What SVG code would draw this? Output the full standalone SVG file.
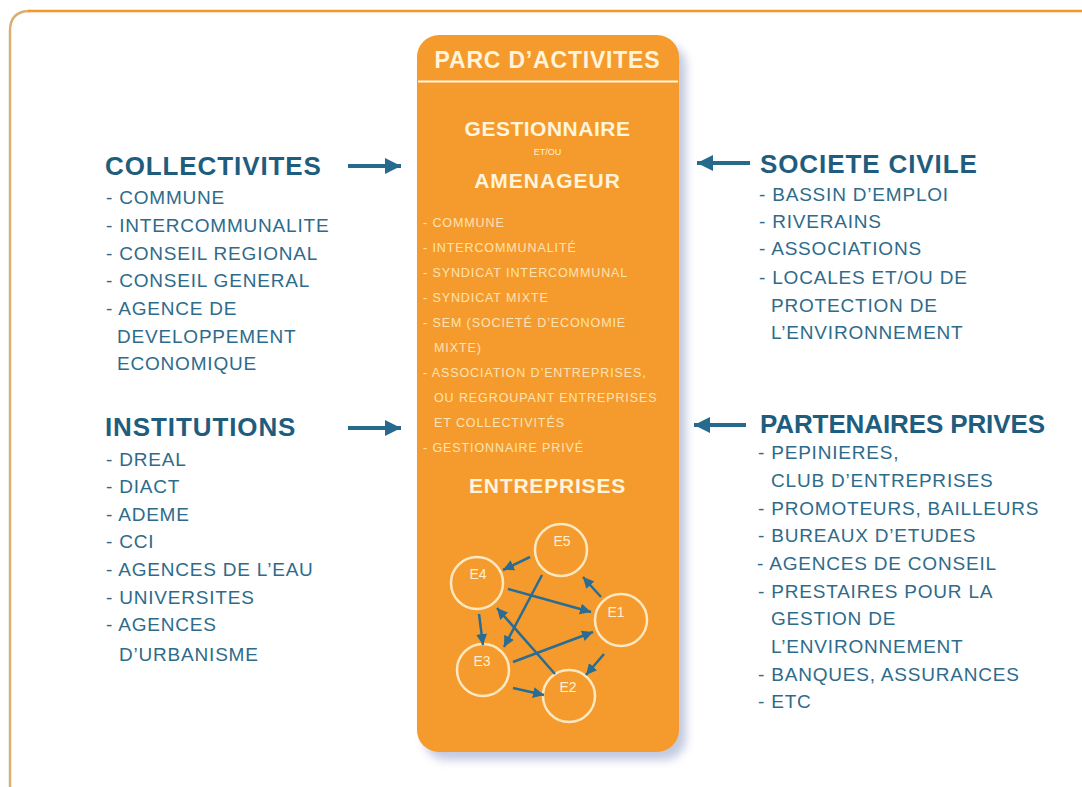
<svg xmlns="http://www.w3.org/2000/svg" width="1082" height="787" viewBox="0 0 1082 787">
<style>
  .hd{font-family:"Liberation Sans",Arial,sans-serif;font-weight:bold;font-size:26px;fill:#1f5d7e;letter-spacing:0.9px}
  .it{font-family:"Liberation Sans",Arial,sans-serif;font-size:19px;fill:#2e6b8b;letter-spacing:0.8px}
  .ch{font-family:"Liberation Sans",Arial,sans-serif;font-weight:bold;font-size:21px;fill:#fff4dc;text-anchor:middle}
  .ci{font-family:"Liberation Sans",Arial,sans-serif;font-size:12.5px;fill:#fde3b4;letter-spacing:0.9px}
  .el{font-family:"Liberation Sans",Arial,sans-serif;font-size:14px;fill:#fff0d0;text-anchor:middle}
  .circ{fill:none;stroke:#fde8c2;stroke-width:2.5}
  .big{stroke:#266a8e;stroke-width:4;fill:none}
  .sm{stroke:#2a6c92;stroke-width:2.5;fill:none}
</style>
<defs>
  <marker id="mb" markerUnits="userSpaceOnUse" markerWidth="18" markerHeight="18" refX="16" refY="8" orient="auto">
    <path d="M0,0 L16,8 L0,16 z" fill="#266a8e"/>
  </marker>
  <marker id="ms" markerUnits="userSpaceOnUse" markerWidth="12" markerHeight="12" refX="11" refY="5.5" orient="auto">
    <path d="M0,0 L11,5.5 L0,11 z" fill="#2a6c92"/>
  </marker>
  <filter id="sh" x="-10%" y="-10%" width="120%" height="120%">
    <feGaussianBlur stdDeviation="5"/>
  </filter>
</defs>
<rect width="1082" height="787" fill="#ffffff"/>
<g id="frame">
  <path d="M10,787 V31 Q10,11 30,11" fill="none" stroke="#dcae74" stroke-width="2.5"/>
  <path d="M28,11 H1082" fill="none" stroke="#f7952a" stroke-width="2.5"/>
</g>
<g id="parc">
  <rect x="424" y="44" width="262" height="716" rx="22" fill="#a9b2d2" opacity="0.7" filter="url(#sh)"/>
  <rect x="417" y="35" width="262" height="717" rx="22" fill="#f59b2d"/>
  <text class="ch" x="547.5" y="68" style="font-size:23px;letter-spacing:0.8px">PARC D’ACTIVITES</text>
  <line x1="418" y1="81.5" x2="678" y2="81.5" stroke="#fff4dc" stroke-width="2"/>
  <text class="ch" x="547.5" y="136" style="letter-spacing:0.5px">GESTIONNAIRE</text>
  <text class="el" x="547.5" y="155" style="font-size:9px">ET/OU</text>
  <text class="ch" x="547.5" y="188" style="letter-spacing:1px">AMENAGEUR</text>
  <text class="ci" x="423" y="227">- COMMUNE</text>
  <text class="ci" x="423" y="252">- INTERCOMMUNALITÉ</text>
  <text class="ci" x="423" y="277">- SYNDICAT INTERCOMMUNAL</text>
  <text class="ci" x="423" y="302">- SYNDICAT MIXTE</text>
  <text class="ci" x="423" y="327">- SEM (SOCIETÉ D’ECONOMIE</text>
  <text class="ci" x="434" y="352">MIXTE)</text>
  <text class="ci" x="423" y="377">- ASSOCIATION D’ENTREPRISES,</text>
  <text class="ci" x="434" y="402">OU REGROUPANT ENTREPRISES</text>
  <text class="ci" x="434" y="427">ET COLLECTIVITÉS</text>
  <text class="ci" x="423" y="452">- GESTIONNAIRE PRIVÉ</text>
  <text class="ch" x="547.5" y="493" style="letter-spacing:0.8px">ENTREPRISES</text>
</g>
<g id="e1"><circle class="circ" cx="621" cy="620" r="26"/><text class="el" x="616" y="617">E1</text></g>
<g id="e2"><circle class="circ" cx="569" cy="696" r="26"/><text class="el" x="568" y="692">E2</text></g>
<g id="e3"><circle class="circ" cx="483" cy="670" r="26"/><text class="el" x="482" y="666">E3</text></g>
<g id="e4"><circle class="circ" cx="477" cy="583" r="26"/><text class="el" x="478" y="579">E4</text></g>
<g id="e5"><circle class="circ" cx="561" cy="550" r="26"/><text class="el" x="562" y="546">E5</text></g>
<g id="collectivites">
  <text class="hd" x="105" y="175">COLLECTIVITES</text>
  <text class="it" x="106" y="204">- COMMUNE</text>
  <text class="it" x="106" y="232">- INTERCOMMUNALITE</text>
  <text class="it" x="106" y="260">- CONSEIL REGIONAL</text>
  <text class="it" x="106" y="287">- CONSEIL GENERAL</text>
  <text class="it" x="106" y="315">- AGENCE DE</text>
  <text class="it" x="117" y="343">DEVELOPPEMENT</text>
  <text class="it" x="117" y="370">ECONOMIQUE</text>
</g>
<g id="institutions">
  <text class="hd" x="105" y="436">INSTITUTIONS</text>
  <text class="it" x="106" y="466">- DREAL</text>
  <text class="it" x="106" y="493">- DIACT</text>
  <text class="it" x="106" y="521">- ADEME</text>
  <text class="it" x="106" y="548">- CCI</text>
  <text class="it" x="106" y="576">- AGENCES DE L’EAU</text>
  <text class="it" x="106" y="604">- UNIVERSITES</text>
  <text class="it" x="106" y="631">- AGENCES</text>
  <text class="it" x="119" y="661">D’URBANISME</text>
</g>
<g id="societe">
  <text class="hd" x="760" y="173">SOCIETE CIVILE</text>
  <text class="it" x="759" y="201">- BASSIN D’EMPLOI</text>
  <text class="it" x="759" y="228">- RIVERAINS</text>
  <text class="it" x="759" y="255">- ASSOCIATIONS</text>
  <text class="it" x="759" y="284">- LOCALES ET/OU DE</text>
  <text class="it" x="771" y="312">PROTECTION DE</text>
  <text class="it" x="771" y="339">L’ENVIRONNEMENT</text>
</g>
<g id="partenaires">
  <text class="hd" x="760" y="433" textLength="285" lengthAdjust="spacing" style="letter-spacing:0">PARTENAIRES PRIVES</text>
  <text class="it" x="758" y="459">- PEPINIERES,</text>
  <text class="it" x="771" y="487">CLUB D’ENTREPRISES</text>
  <text class="it" x="758" y="515">- PROMOTEURS, BAILLEURS</text>
  <text class="it" x="758" y="542">- BUREAUX D’ETUDES</text>
  <text class="it" x="757" y="570">- AGENCES DE CONSEIL</text>
  <text class="it" x="758" y="598">- PRESTAIRES POUR LA</text>
  <text class="it" x="771" y="625">GESTION DE</text>
  <text class="it" x="771" y="653">L’ENVIRONNEMENT</text>
  <text class="it" x="758" y="681">- BANQUES, ASSURANCES</text>
  <text class="it" x="758" y="708">- ETC</text>
</g>
<g id="connectors">
  <line class="big" x1="348" y1="166" x2="401" y2="166" marker-end="url(#mb)"/>
  <line class="big" x1="348" y1="428" x2="401" y2="428" marker-end="url(#mb)"/>
  <line class="big" x1="750" y1="163" x2="697" y2="163" marker-end="url(#mb)"/>
  <line class="big" x1="746" y1="425" x2="694" y2="425" marker-end="url(#mb)"/>
  <line class="sm" x1="530" y1="557" x2="503" y2="570" marker-end="url(#ms)"/>
  <line class="sm" x1="508" y1="589" x2="591" y2="612" marker-end="url(#ms)"/>
  <line class="sm" x1="542" y1="575" x2="504" y2="647" marker-end="url(#ms)"/>
  <line class="sm" x1="479" y1="614" x2="483" y2="645" marker-end="url(#ms)"/>
  <line class="sm" x1="555" y1="674" x2="497" y2="608" marker-end="url(#ms)"/>
  <line class="sm" x1="513" y1="662" x2="593" y2="632" marker-end="url(#ms)"/>
  <line class="sm" x1="601" y1="597" x2="583" y2="577" marker-end="url(#ms)"/>
  <line class="sm" x1="604" y1="654" x2="586" y2="675" marker-end="url(#ms)"/>
  <line class="sm" x1="513" y1="688" x2="544" y2="695" marker-end="url(#ms)"/>
</g>
</svg>
